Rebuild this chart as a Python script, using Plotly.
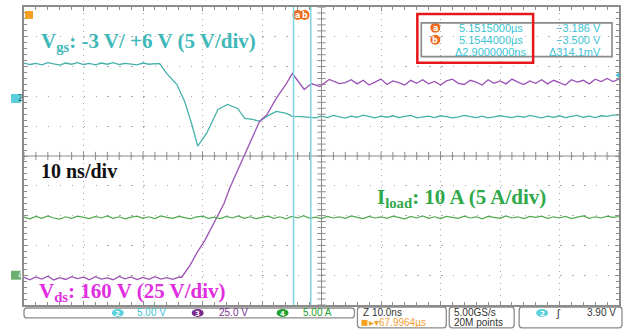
import plotly.graph_objects as go

# ---------------- data ----------------
# time in ns (10 ns/div, 10 divisions on screen)
vgs_pre = [5.95, 5.7, 5.9, 5.65, 6.0, 5.75, 5.6, 5.95, 5.75, 6.0, 5.7, 5.9, 5.65, 5.95,
           5.75, 6.0, 5.7, 5.9, 5.75, 5.65, 5.95, 5.75, 5.85]            # t = 0..22 ns
vgs_edge_t = [22.8, 24.0, 25.7, 27.0, 28.2, 29.2, 30.7, 32.6, 34.2, 35.9, 37.1, 38.4,
              39.6, 40.8, 42.4, 44.1, 45.1, 46.6, 48.0]
vgs_edge_v = [5.83, 4.17, 2.33, -0.5, -4.33, -8.0, -5.83, -1.83, -1.0, -1.67, -3.33, -3.5,
              -3.83, -3.0, -2.17, -2.5, -3.0, -3.05, -3.17]
vgs_post = [-3.25, -2.95, -3.2, -2.85, -3.1, -3.3, -2.95, -3.15, -2.8, -3.05,
            -3.25, -2.95, -3.15, -2.9, -3.2, -3.0, -2.85, -3.25, -3.1, -2.95,
            -3.2, -2.9, -3.05, -3.25, -3.1, -2.85, -3.05, -3.2, -2.95, -3.25,
            -3.1, -2.9, -3.05, -3.2, -2.95, -3.15, -2.85, -3.05, -3.25, -2.95,
            -3.15, -2.9, -3.2, -3.0, -2.85, -3.15, -2.95, -3.2, -2.9, -3.0,
            -2.8, -2.75]                                                  # t = 49..100 ns

vds_pre = [0.8, -1.4, 1.1, -0.7, 1.6, -1.5, 0.4, -1.1, 1.3, -0.4,
           0.9, -1.4, 1.2, -0.8, 0.3, -1.3, 1.4, -0.5, 1.0, -1.2,
           0.6, -0.9, 1.3, -0.7, 0.4, -1.0, 0.8]                          # t = 0..26 ns
vds_edge_t = [26.5, 27.9, 29.0, 30.4, 32.4, 33.6, 34.6, 35.7, 36.7, 37.9, 39.6, 40.8,
              42.4, 44.1, 45.1, 46.1, 47.1, 48.3, 49.7, 51.3, 53.0]
vds_edge_v = [0.8, 10.8, 20.8, 31.7, 50.8, 62.5, 75.8, 88.3, 98.3, 112.5, 131.7, 137.0,
              150.8, 163.3, 171.7, 165.0, 158.3, 163.3, 160.8, 166.7, 163.3]
vds_post = [164.0, 166.5, 163.0, 166.0, 162.0, 164.5, 167.0, 162.5, 165.5, 164.0,
            162.0, 166.0, 163.5, 166.5, 163.0, 165.0, 162.0, 165.5, 167.0, 163.5,
            162.5, 166.0, 164.5, 162.0, 166.5, 163.5, 165.5, 163.0, 167.0, 164.5,
            162.5, 165.5, 163.5, 166.5, 163.0, 166.0, 164.0, 162.0, 166.5, 164.5,
            166.0, 163.0, 167.0, 165.0, 167.5, 165.0, 167.0]              # t = 54..100 ns

iload = [9.75, 9.45, 9.85, 9.55, 9.95, 9.6, 9.4, 9.8, 9.55, 9.9,
         9.7, 9.5, 9.85, 9.6, 9.95, 9.55, 9.8, 9.45, 9.75, 9.9,
         9.55, 9.8, 9.5, 9.95, 9.7, 9.55, 9.85, 9.6, 9.45, 9.8,
         9.9, 9.55, 9.75, 9.5, 9.85, 9.6, 9.95, 9.55, 9.8, 9.5,
         9.75, 9.9, 9.55, 9.8, 9.45, 9.85, 9.6, 10.0, 9.55, 9.75,
         9.5, 9.85, 9.6, 9.8, 9.55, 9.95, 9.7, 9.5, 9.85, 9.6,
         9.8, 9.55, 9.9, 9.7, 9.45, 9.85, 9.6, 9.95, 9.55, 9.8,
         9.5, 9.85, 9.7, 9.55, 9.9, 9.6, 9.8, 9.45, 9.85, 9.7,
         9.55, 9.95, 9.6, 9.8, 9.5, 9.85, 9.7, 9.9, 9.55, 9.8,
         9.6, 9.85, 9.5, 9.75, 9.95, 9.55, 9.8, 9.6, 9.9, 9.7, 9.85]     # t = 0..100 ns

cursor_t = [45.3, 48.2]          # ns (cursors a and b)
trigger_level = 3.90             # V on Vgs channel

# channel scales: (V per div, ground position in divisions from bottom)
vgs_scale, vgs_gnd = 5.0, 6.93
vds_scale, vds_gnd = 25.0, 0.9
il_scale, il_gnd = 5.0, 1.0

# ---------------- assemble series ----------------
vgs_t = list(range(0, len(vgs_pre))) + vgs_edge_t + [49 + i for i in range(len(vgs_post))]
vgs_v = vgs_pre + vgs_edge_v + vgs_post
vds_t = list(range(0, len(vds_pre))) + vds_edge_t + [54 + i for i in range(len(vds_post))]
vds_v = vds_pre + vds_edge_v + vds_post
il_t = list(range(0, len(iload)))

W, H = 626, 331
L, R, T, B = 24, 6, 5, 26
PW, PH = W - L - R, H - T - B


def X(px):
    return (px - L) / PW


def Y(py):
    return (T + PH - py) / PH


GRID = "#a8a8a8"
BORDER = "#8c8c8c"
CYAN_T = "#3fb8b8"
READ = "#3cc3d3"
ORANGE = "#ee6a1c"

fig = go.Figure()

fig.add_trace(go.Scatter(x=il_t, y=iload, yaxis="y4", mode="lines",
                         line=dict(color="#4faa4f", width=1.2), hoverinfo="skip"))
fig.add_trace(go.Scatter(x=vgs_t, y=vgs_v, yaxis="y2", mode="lines",
                         line=dict(color="#45b2aa", width=1.3), hoverinfo="skip"))
fig.add_trace(go.Scatter(x=vds_t, y=vds_v, yaxis="y3", mode="lines",
                         line=dict(color="#9a52b4", width=1.3), hoverinfo="skip"))

# center-cross tick marks (graticule decoration)
fig.add_trace(go.Scatter(x=[i * 2 for i in range(51)], y=[5] * 51, mode="markers",
                         marker=dict(symbol="line-ns", size=6, line=dict(width=1, color=BORDER)),
                         hoverinfo="skip"))
fig.add_trace(go.Scatter(x=[50] * 51, y=[i * 0.2 for i in range(51)], mode="markers",
                         marker=dict(symbol="line-ew", size=6, line=dict(width=1, color=BORDER)),
                         hoverinfo="skip"))
# trigger level marker on the right edge
fig.add_trace(go.Scatter(x=[100], y=[trigger_level], yaxis="y2", mode="markers",
                         marker=dict(symbol="triangle-left", size=7, color="#40c8d8"),
                         cliponaxis=False, hoverinfo="skip"))

shapes = []
# center lines
shapes.append(dict(type="line", xref="x", yref="paper", x0=50, x1=50, y0=0, y1=1,
                   line=dict(color=BORDER, width=1)))
shapes.append(dict(type="line", xref="paper", yref="y", x0=0, x1=1, y0=5, y1=5,
                   line=dict(color=BORDER, width=1)))
# cursors
for ct in cursor_t:
    shapes.append(dict(type="line", xref="x", yref="paper", x0=ct, x1=ct, y0=0, y1=1,
                       line=dict(color="#7fd4de", width=1.5)))


def rrect(x0, y0, x1, y1, r, color=BORDER, w=1.3):
    p = (f"M{X(x0 + r)},{Y(y0)} L{X(x1 - r)},{Y(y0)} Q{X(x1)},{Y(y0)} {X(x1)},{Y(y0 + r)} "
         f"L{X(x1)},{Y(y1 - r)} Q{X(x1)},{Y(y1)} {X(x1 - r)},{Y(y1)} "
         f"L{X(x0 + r)},{Y(y1)} Q{X(x0)},{Y(y1)} {X(x0)},{Y(y1 - r)} "
         f"L{X(x0)},{Y(y0 + r)} Q{X(x0)},{Y(y0)} {X(x0 + r)},{Y(y0)} Z")
    return dict(type="path", xref="paper", yref="paper", path=p,
                line=dict(color=color, width=w), layer="above")


annotations = []


def badge(cx, cy, rx, ry, color, text, fs=9):
    shapes.append(dict(type="circle", xref="paper", yref="paper",
                       x0=X(cx - rx), x1=X(cx + rx), y0=Y(cy + ry), y1=Y(cy - ry),
                       fillcolor=color, line=dict(width=0), layer="below"))
    annotations.append(dict(xref="paper", yref="paper", x=X(cx), y=Y(cy) - 0.002, text=text,
                            showarrow=False, xanchor="center", yanchor="middle", borderpad=0,
                            font=dict(family="DejaVu Sans", size=fs, color="white",
                                      weight="bold")))


def txt(px, py, text, color, size=11, anchor="left", family="Liberation Sans", weight=None):
    f = dict(family=family, size=size, color=color)
    if weight:
        f["weight"] = weight
    annotations.append(dict(xref="paper", yref="paper", x=X(px), y=Y(py), text=text,
                            showarrow=False, xanchor=anchor, yanchor="middle", font=f,
                            borderpad=0))


# cursor readout box (gray frame + red highlight)
shapes.append(dict(type="rect", xref="paper", yref="paper", x0=X(422), x1=X(613),
                   y0=Y(55), y1=Y(21), line=dict(color="#8a8a8a", width=1.6), layer="above"))
shapes.append(dict(type="rect", xref="paper", yref="paper", x0=X(418), x1=X(534),
                   y0=Y(61), y1=Y(12), line=dict(color="#e8171b", width=2.5), layer="above"))
badge(436, 26, 5, 5, ORANGE, "a", fs=8)
badge(436, 38, 5, 5, ORANGE, "b", fs=8)
txt(459, 26, "5.1515000µs", READ)
txt(459, 38, "5.1544000µs", READ)
txt(455, 50, "Δ2.9000000ns", READ)
txt(603, 26, "−3.186 V", READ, anchor="right")
txt(603, 38, "−3.500 V", READ, anchor="right")
txt(603, 50, "Δ314.1mV", READ, anchor="right")

# cursor badges on top
badge(298, 13, 5, 5, ORANGE, "a", fs=8)
badge(305, 13, 5, 5, ORANGE, "b", fs=8)
# trigger position marker top-left
shapes.append(dict(type="rect", xref="paper", yref="paper", x0=X(25), x1=X(33),
                   y0=Y(17), y1=Y(9), fillcolor="#f4a020", line=dict(width=0), layer="above"))
# channel ground markers on the left
shapes.append(dict(type="rect", xref="paper", yref="y2", x0=X(11), x1=X(21),
                   y0=-0.75, y1=0.75, fillcolor="#5ad0dc", line=dict(width=0), layer="above"))
annotations.append(dict(xref="paper", yref="y2", x=X(16), y=0, text="2", showarrow=False,
                        font=dict(family="DejaVu Sans", size=8, color="#1a6a70")))
shapes.append(dict(type="rect", xref="paper", yref="y4", x0=X(11), x1=X(21),
                   y0=-0.75, y1=0.75, fillcolor="#6cae6c", line=dict(width=0), layer="above"))
annotations.append(dict(xref="paper", yref="y4", x=X(16), y=0, text="4", showarrow=False,
                        font=dict(family="DejaVu Sans", size=8, color="white")))

# big labels
SERIF = "Liberation Serif, Times New Roman, serif"
txt(40, 40, "V<sub>gs</sub>: -3 V/ +6 V (5 V/div)", CYAN_T, size=21, family=SERIF, weight="bold")
txt(40, 170, "10 ns/div", "#111111", size=20, family=SERIF, weight="bold")
txt(377, 197, "I<sub>load</sub>: 10 A (5 A/div)", "#2ea84a", size=21, family=SERIF, weight="bold")
txt(38, 292, "V<sub>ds</sub>: 160 V (25 V/div)", "#e02ee0", size=21, family=SERIF, weight="bold")

# status bar
shapes.append(rrect(24, 308, 355, 318, 3))
badge(118, 313, 6, 4, "#5ad0dc", "2", fs=7)
txt(136, 313, "5.00 V", READ, size=10)
badge(198, 313, 6, 4, "#7a2a8a", "3", fs=7)
txt(218, 313, "25.0 V", "#7a3090", size=10)
badge(283, 313, 6, 4, "#22a030", "4", fs=7)
txt(302, 313, "5.00 A", "#22a030", size=10)

shapes.append(rrect(358, 307, 447, 328, 3))
txt(363, 313, "Z 10.0ns", "#333333", size=10)
shapes.append(dict(type="rect", xref="paper", yref="paper", x0=X(362), x1=X(368),
                   y0=Y(326), y1=Y(320), fillcolor="#f4a020", line=dict(width=0), layer="above"))
txt(369, 323, "▸▾67.9964µs", "#f0a030", size=10)

shapes.append(rrect(450, 307, 515, 328, 3))
txt(454, 313, "5.00GS/s", "#333333", size=10)
txt(454, 323, "20M points", "#333333", size=10)

shapes.append(rrect(520, 307, 623, 328, 3))
badge(543, 313, 6, 4, "#5ad0dc", "2", fs=7)
txt(556, 313, "ʃ", "#333333", size=11)
txt(618, 313, "3.90 V", "#333333", size=10, anchor="right")

axis_common = dict(showline=True, linecolor=BORDER, linewidth=1.5, mirror="ticks",
                   ticks="inside", tickcolor=BORDER, ticklen=4, showticklabels=False,
                   zeroline=False, gridcolor=GRID, gridwidth=1.3)

fig.update_layout(
    width=W, height=H,
    margin=dict(l=L, r=R, t=T, b=B, pad=0),
    paper_bgcolor="white", plot_bgcolor="white",
    showlegend=False,
    xaxis=dict(range=[0, 100], dtick=10, griddash="1.3px,4.7px",
               minor=dict(dtick=2, ticks="inside", ticklen=3, tickcolor=BORDER, showgrid=False),
               **axis_common),
    yaxis=dict(range=[0, 10], dtick=1, griddash="1.3px,10.62px",
               minor=dict(dtick=0.2, ticks="inside", ticklen=3, tickcolor=BORDER, showgrid=False),
               **axis_common),
    yaxis2=dict(overlaying="y", visible=False,
                range=[-vgs_gnd * vgs_scale, (10 - vgs_gnd) * vgs_scale]),
    yaxis3=dict(overlaying="y", visible=False,
                range=[-vds_gnd * vds_scale, (10 - vds_gnd) * vds_scale]),
    yaxis4=dict(overlaying="y", visible=False,
                range=[-il_gnd * il_scale, (10 - il_gnd) * il_scale]),
    shapes=shapes,
    annotations=annotations,
)

fig.write_html("out.html")
